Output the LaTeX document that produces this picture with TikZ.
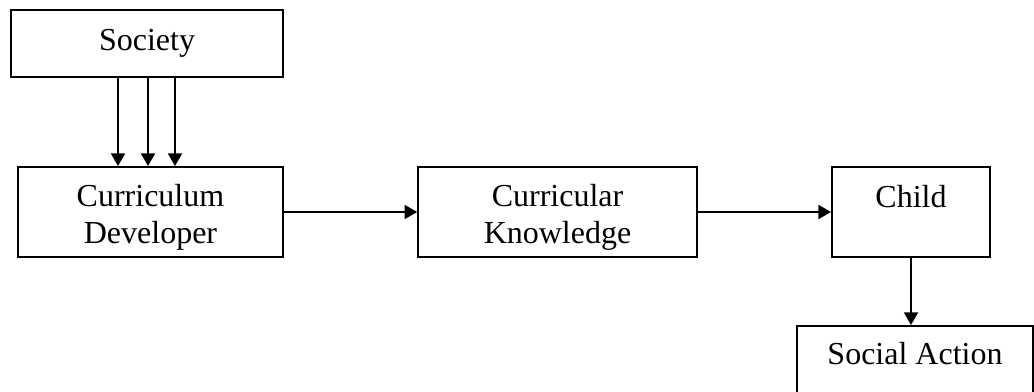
\documentclass[tikz,border=0pt]{standalone}
\usepackage{fontspec}
\setmainfont{Liberation Serif}
\usetikzlibrary{arrows.meta,positioning}

\begin{document}
\begin{tikzpicture}[x=0.75pt,y=-0.75pt,
  box/.style={draw,line width=1.4pt,rectangle,align=center,inner sep=0pt,
    font=\fontsize{24}{28}\selectfont},
  arr/.style={line width=1.4pt,-{Triangle[length=9.5pt,width=10.5pt]}}]
\useasboundingbox (0,0) rectangle (1034,392);

\node (soc) at (147,43.5) [box,minimum width=204pt,minimum height=50pt] {Society};
\node (cd) at (150.5,212) [box,minimum width=199pt,minimum height=67.5pt] {\rule{0pt}{25pt}Curriculum\\Developer};
\node (ck) at (557.5,212) [box,minimum width=209pt,minimum height=67.5pt] {\rule{0pt}{25pt}Curricular\\Knowledge};
\node (child) at (911,212) [box,minimum width=118.5pt,minimum height=67.5pt,
  text height=17pt,text depth=24.5pt] {Child};
\node (sa) at (915,371) [box,minimum width=177pt,minimum height=67.5pt,
  text height=17pt,text depth=27.5pt] {Social Action};

\foreach \x in {118,148,175}
  \draw[arr] (soc.south -| \x,0) -- (cd.north -| \x,0);
\draw[arr] (cd) -- (ck);
\draw[arr] (ck) -- (child);
\draw[arr] (child) -- (sa.north -| child);
\end{tikzpicture}
\end{document}
